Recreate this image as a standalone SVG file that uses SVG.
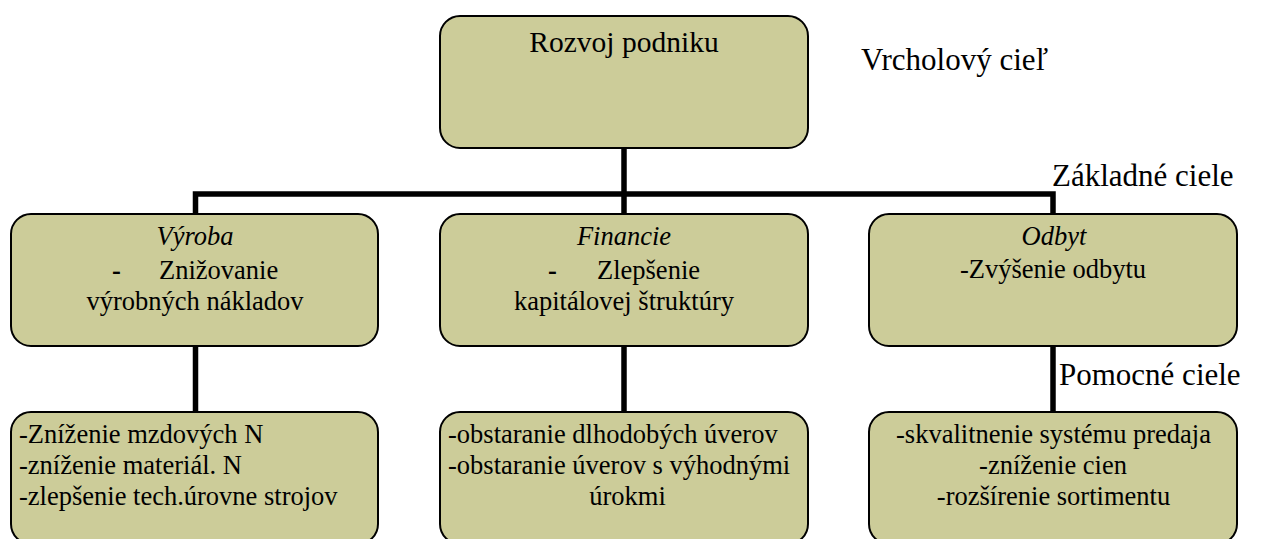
<svg xmlns="http://www.w3.org/2000/svg" width="1264" height="539" viewBox="0 0 1264 539">
  <style>
    .box { fill: #cccc99; stroke: #000; stroke-width: 2; }
    .t { font-size: 26.5px; fill: #000; }
    .c { text-anchor: middle; }
    .i { font-style: italic; }
    .lbl { font-size: 31px; fill: #000; }
    .conn { fill: none; stroke: #000; stroke-width: 5.5; stroke-linejoin: miter; }
  </style>

  <rect width="1264" height="539" fill="#fff"/>

  <!-- connectors -->
  <g id="connectors">
    <line class="conn" x1="624" y1="148" x2="624" y2="194"/>
    <path class="conn" d="M195.5 214 V194 H1053 V214"/>
    <line class="conn" x1="624" y1="194" x2="624" y2="214"/>
    <line class="conn" x1="195.5" y1="346" x2="195.5" y2="412"/>
    <line class="conn" x1="624" y1="346" x2="624" y2="412"/>
    <line class="conn" x1="1053" y1="346" x2="1053" y2="412"/>
  </g>

  <g font-family="Liberation Serif, Times New Roman, serif">
    <!-- top goal -->
    <g id="rozvoj">
      <rect class="box" x="440" y="16" width="368" height="132" rx="20"/>
      <text class="t c" x="624" y="52" style="font-size:29.5px">Rozvoj podniku</text>
    </g>

    <!-- basic goals -->
    <g id="vyroba">
      <rect class="box" x="11" y="214" width="367" height="132" rx="20"/>
      <text class="t c i" x="195" y="245">Výroba</text>
      <text class="t" x="112" y="279" style="font-weight:bold">-</text>
      <text class="t" x="159" y="279">Znižovanie</text>
      <text class="t c" x="195" y="310">výrobných nákladov</text>
    </g>

    <g id="financie">
      <rect class="box" x="440" y="214" width="368" height="132" rx="20"/>
      <text class="t c i" x="624" y="245">Financie</text>
      <text class="t" x="548" y="279" style="font-weight:bold">-</text>
      <text class="t" x="597" y="279">Zlepšenie</text>
      <text class="t c" x="624" y="310">kapitálovej štruktúry</text>
    </g>

    <g id="odbyt">
      <rect class="box" x="869" y="214" width="368" height="132" rx="20"/>
      <text class="t c i" x="1054" y="245">Odbyt</text>
      <text class="t c" x="1053" y="278">-Zvýšenie odbytu</text>
    </g>

    <!-- supporting goals -->
    <g id="vyroba-ciele">
      <rect class="box" x="11" y="412" width="367" height="132" rx="20"/>
      <text class="t" x="19" y="443">-Zníženie mzdových N</text>
      <text class="t" x="19" y="474">-zníženie materiál. N</text>
      <text class="t" x="19" y="505">-zlepšenie tech.úrovne strojov</text>
    </g>

    <g id="financie-ciele">
      <rect class="box" x="440" y="412" width="368" height="132" rx="20"/>
      <text class="t" x="448" y="443">-obstaranie dlhodobých úverov</text>
      <text class="t" x="448" y="474">-obstaranie úverov s výhodnými</text>
      <text class="t c" x="627.5" y="505">úrokmi</text>
    </g>

    <g id="odbyt-ciele">
      <rect class="box" x="869" y="412" width="368" height="132" rx="20"/>
      <text class="t c" x="1053.5" y="443">-skvalitnenie systému predaja</text>
      <text class="t c" x="1053" y="474">-zníženie cien</text>
      <text class="t c" x="1053.5" y="505">-rozšírenie sortimentu</text>
    </g>

    <!-- level labels -->
    <g id="labels">
      <text class="lbl" x="861" y="70">Vrcholový cieľ</text>
      <text class="lbl" x="1052" y="186">Základné ciele</text>
      <text class="lbl" x="1059" y="385">Pomocné ciele</text>
    </g>
  </g>
</svg>
